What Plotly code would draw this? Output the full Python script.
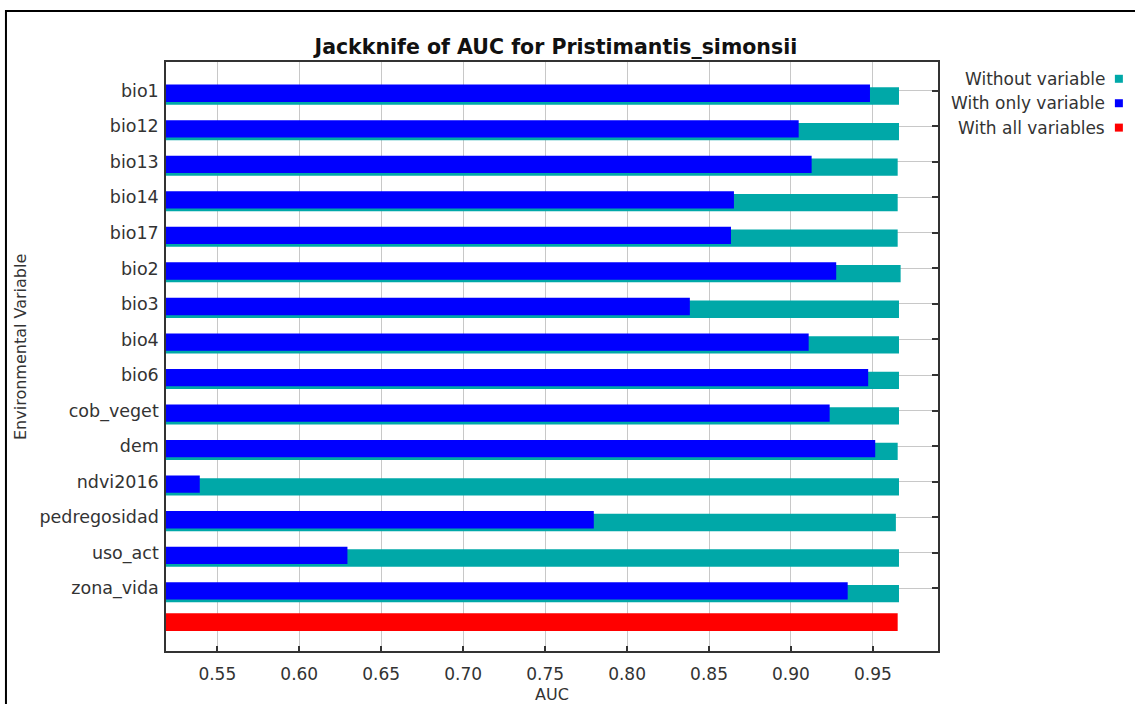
import plotly.graph_objects as go

# Jackknife of AUC (MaxEnt) for Pristimantis simonsii
variables = ["bio1", "bio12", "bio13", "bio14", "bio17", "bio2", "bio3", "bio4",
             "bio6", "cob_veget", "dem", "ndvi2016", "pedregosidad", "uso_act",
             "zona_vida"]
without_variable = [0.9659, 0.9659, 0.9651, 0.9651, 0.9651, 0.9669, 0.9659, 0.9659,
                    0.9659, 0.9659, 0.9651, 0.9659, 0.9640, 0.9659, 0.9659]
with_only_variable = [0.9482, 0.9047, 0.9126, 0.8652, 0.8634, 0.9276, 0.8383, 0.9108,
                      0.9471, 0.9236, 0.9514, 0.5393, 0.7797, 0.6294, 0.9346]
with_all_variables = [0.9651]
x_ticks = [0.55, 0.60, 0.65, 0.70, 0.75, 0.80, 0.85, 0.90, 0.95]

TEAL = "#00A8A8"
BLUE = "#0000FF"
RED = "#FF0000"
FONT = "DejaVu Sans"
TEXT = "#333333"

rows = list(range(len(variables)))
all_row = [len(variables)]

fig = go.Figure()
fig.add_trace(go.Bar(
    y=rows, x=without_variable, orientation="h", name="Without variable",
    width=0.487, offset=-0.0945, marker=dict(color=TEAL, line=dict(width=0)),
))
fig.add_trace(go.Bar(
    y=rows, x=with_only_variable, orientation="h", name="With only variable",
    width=0.487, offset=-0.1715, marker=dict(color=BLUE, line=dict(width=0)),
))
fig.add_trace(go.Bar(
    y=all_row, x=with_all_variables, orientation="h", name="With all variables",
    width=0.5, offset=-0.295, marker=dict(color=RED, line=dict(width=0)),
))

# Legend drawn JFreeChart-style: right-aligned labels with swatches on the right
legend_items = [("Without variable", TEAL), ("With only variable", BLUE),
                ("With all variables", RED)]
legend_y = [0.9715, 0.930, 0.8886]
annotations = []
shapes = []
for (label, color), ly in zip(legend_items, legend_y):
    annotations.append(dict(
        text=label, xref="paper", yref="paper", x=1.2195, y=ly,
        xanchor="right", yanchor="middle", showarrow=False,
        font=dict(family=FONT, size=17, color=TEXT),
    ))
    shapes.append(dict(
        type="rect", xref="paper", yref="paper", xsizemode="pixel",
        ysizemode="pixel", xanchor=1.2343, yanchor=ly,
        x0=-4, x1=4, y0=-4, y1=4, fillcolor=color, line=dict(width=0),
    ))

# Vertical y-axis title
annotations.append(dict(
    text="Environmental Variable", xref="paper", yref="paper",
    x=-0.1892, y=0.516, xanchor="center", yanchor="middle",
    textangle=-90, showarrow=False,
    font=dict(family=FONT, size=16, color=TEXT),
))

# Outer chart frame
shapes.append(dict(
    type="rect", xref="paper", yref="paper", x0=-0.2073, x1=1.4,
    y0=-0.3, y1=1.0866, line=dict(color="#000000", width=2), layer="below",
))

fig.update_layout(
    width=1135, height=704,
    margin=dict(l=166, r=197, t=62, b=53, autoexpand=False),
    paper_bgcolor="white", plot_bgcolor="white",
    barmode="overlay", showlegend=False,
    title=dict(
        text="<b>Jackknife of AUC for Pristimantis_simonsii</b>",
        x=0.505, xref="paper", xanchor="center",
        y=1 - 47 / 704, yref="container", yanchor="middle",
        font=dict(family=FONT, size=20.5, color="#111111"),
    ),
    xaxis=dict(
        range=[0.5187, 0.9897], tickvals=x_ticks, tickformat=".2f",
        ticks="inside", ticklen=5, tickwidth=1.5, tickcolor=TEXT,
        showline=True, linecolor=TEXT, linewidth=1.5, mirror=True,
        showgrid=True, gridcolor="#C8C8C8", gridwidth=1.2, zeroline=False,
        automargin=False,
        tickfont=dict(family=FONT, size=17, color=TEXT),
        ticklabelstandoff=7,
        title=dict(text="AUC", font=dict(family=FONT, size=16, color=TEXT),
                   standoff=10),
    ),
    yaxis=dict(
        range=[15.765, -0.808], tickvals=rows, ticktext=variables,
        ticks="inside", ticklen=6, tickwidth=1.5, tickcolor=TEXT,
        showline=True, linecolor=TEXT, linewidth=1.5, mirror="ticks",
        showgrid=True, gridcolor="#C8C8C8", gridwidth=1.2, zeroline=False,
        layer="below traces", automargin=False,
        tickfont=dict(family=FONT, size=17.5, color=TEXT),
        ticklabelstandoff=2,
    ),
    annotations=annotations,
    shapes=shapes,
)

fig.write_html("out.html")
